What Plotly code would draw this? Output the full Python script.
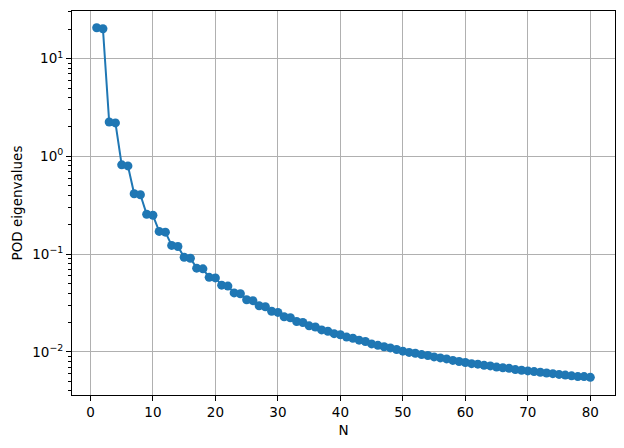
import plotly.graph_objects as go

N = list(range(1, 81))
eigenvalues = [
    20.7, 20.2, 2.25, 2.20, 0.82, 0.80, 0.415, 0.405, 0.256, 0.250,
    0.171, 0.168, 0.123, 0.120, 0.093, 0.091, 0.0720, 0.0708, 0.0580, 0.0572,
    0.0482, 0.0472, 0.0402, 0.0394, 0.0342, 0.0335, 0.0297, 0.0290, 0.0261, 0.0254,
    0.0229, 0.0224, 0.0205, 0.0200, 0.0185, 0.0180, 0.0168, 0.0163, 0.0154, 0.0150,
    0.0142, 0.0138, 0.0132, 0.0128, 0.0121, 0.0117, 0.0113, 0.0110, 0.0106, 0.0102,
    0.0099, 0.0097, 0.0094, 0.0092, 0.0089, 0.0087, 0.0085, 0.0082, 0.0080, 0.0078,
    0.0076, 0.0075, 0.0073, 0.0072, 0.0070, 0.0069, 0.0068, 0.0066, 0.0065, 0.0064,
    0.0063, 0.0062, 0.0061, 0.0060, 0.0059, 0.0058, 0.0057, 0.0056, 0.0056, 0.0055,
]
x_ticks = [0, 10, 20, 30, 40, 50, 60, 70, 80]
y_tickvals = [0.01, 0.1, 1, 10]
y_ticktext = ["10<sup>−2</sup>", "10<sup>−1</sup>", "10<sup>0</sup>", "10<sup>1</sup>"]
y_minor = [m * d for d in [0.001, 0.01, 0.1, 1, 10] for m in range(2, 10)]

fig = go.Figure()
fig.add_trace(go.Scatter(
    x=N, y=eigenvalues, mode="lines+markers",
    line=dict(color="#1f77b4", width=2),
    marker=dict(color="#1f77b4", size=9),
    showlegend=False,
))

font = dict(family="DejaVu Sans", size=13.5, color="black")
fig.update_layout(
    width=616, height=440,
    margin=dict(l=64, r=9, t=3, b=53),
    paper_bgcolor="white", plot_bgcolor="white",
    font=font,
)
fig.update_xaxes(
    range=[-2.95, 83.95], tickvals=x_ticks,
    showline=True, linecolor="black", linewidth=1, mirror=True,
    ticks="outside", ticklen=5, tickcolor="black",
    showgrid=True, gridcolor="#b0b0b0", gridwidth=1, zeroline=False,
    title=dict(text="N", font=font, standoff=6),
)
fig.update_yaxes(
    type="log", range=[-2.44, 1.487],
    tickvals=y_tickvals, ticktext=y_ticktext,
    showline=True, linecolor="black", linewidth=1, mirror=True,
    ticks="outside", ticklen=5, tickcolor="black",
    minor=dict(tickvals=y_minor, ticks="outside", ticklen=3, tickcolor="black", showgrid=False),
    showgrid=True, gridcolor="#b0b0b0", gridwidth=1, zeroline=False,
    title=dict(text="POD eigenvalues", font=font, standoff=6),
)
fig.write_html("out.html")
